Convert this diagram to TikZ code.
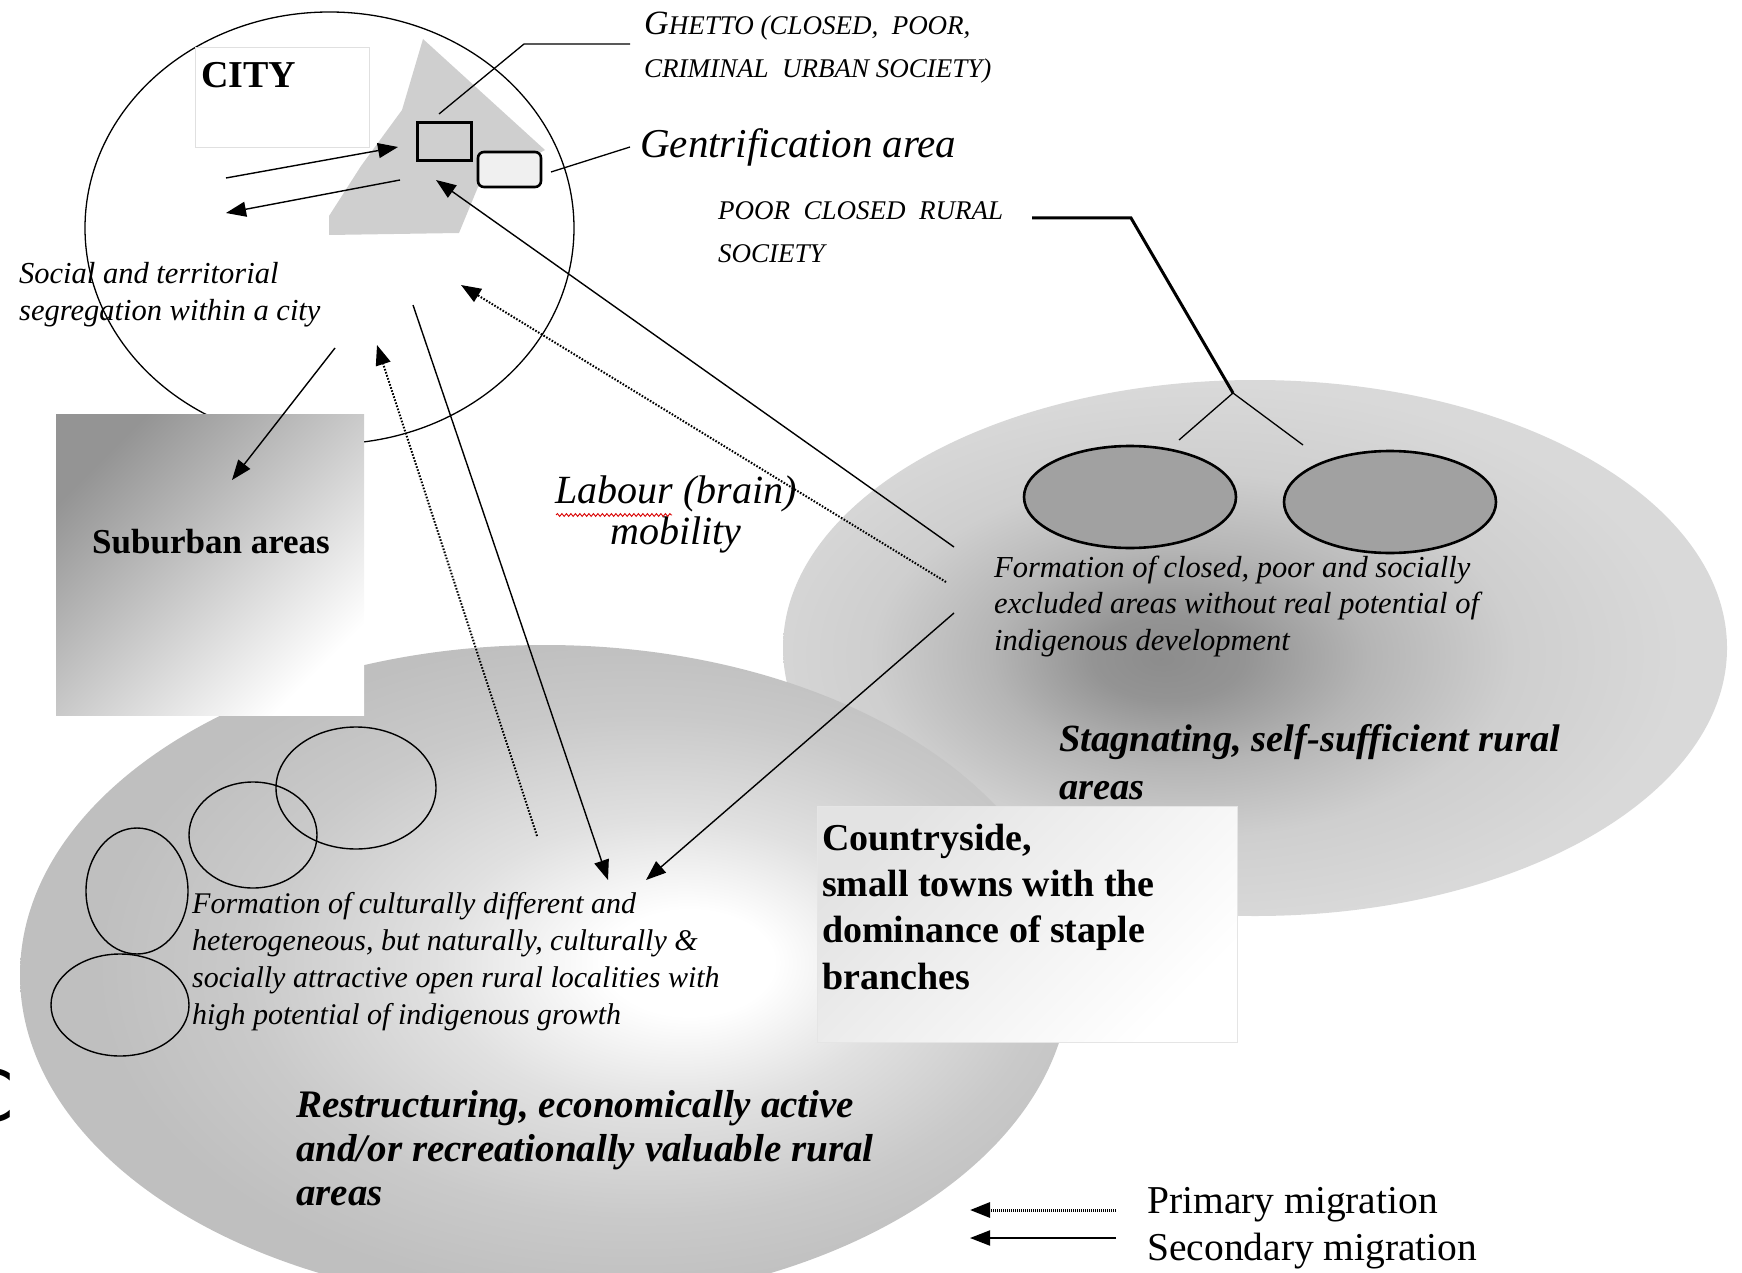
\documentclass[tikz,border=0pt]{standalone}
\usepackage{fontspec}
\setmainfont{Liberation Serif}
\newfontfamily\straysans{DejaVu Sans}
\usepackage{tikz}
\usetikzlibrary{shapes.geometric,arrows.meta,decorations.pathmorphing}
\definecolor{ghettogray}{gray}{0.81}
\definecolor{gentrigray}{gray}{0.94}
\definecolor{pocketgray}{gray}{0.63}
\pgfdeclareradialshading{stagshade}{\pgfpoint{-5bp}{-1bp}}{%
  color(0bp)=(black!45); color(4bp)=(black!42); color(10bp)=(black!29);
  color(17bp)=(black!19); color(25bp)=(black!15); color(50bp)=(black!15)}
\pgfdeclareradialshading{restshade}{\pgfpoint{7.5bp}{1bp}}{%
  color(0bp)=(white); color(4bp)=(white); color(11bp)=(black!12);
  color(19bp)=(black!21); color(25bp)=(black!25); color(50bp)=(black!25)}
\tikzset{%
  zone/.style={
    ellipse,
    draw=none,
    inner sep=0pt
  },
  ringline/.style={
    ellipse,
    draw,
    line width=1.4pt,
    inner sep=0pt
  },
  pocket/.style={
    ellipse,
    draw,
    line width=2.6pt,
    fill=pocketgray,
    minimum width=212pt,
    minimum height=102pt,
    inner sep=0pt
  },
  panel/.style={
    rectangle,
    inner sep=0pt
  },
  ghettobox/.style={
    rectangle,
    draw,
    line width=3pt,
    fill=ghettogray,
    minimum width=54pt,
    minimum height=38pt
  },
  gentribox/.style={
    rectangle,
    rounded corners=6pt,
    draw,
    line width=2.6pt,
    fill=gentrigray,
    minimum width=63pt,
    minimum height=35pt
  },
  plaintext/.style={
    align=left,
    anchor=base west,
    inner sep=0pt
  },
  bodytext/.style={
    plaintext,
    font=\fontsize{30.5}{36.5}\selectfont\itshape
  },
  capstext/.style={
    plaintext,
    font=\fontsize{27}{42.5}\selectfont\itshape
  },
  leader/.style={line width=1.3pt},
  thickleader/.style={line width=3pt},
  secondary/.style={->, line width=1.4pt},
  primary/.style={->, line width=2pt, dash pattern=on 1.6pt off 1.6pt},
}

\begin{document}
\begin{tikzpicture}[x=1pt, y=-1pt, >={Triangle[length=20pt,width=15pt]}]
\clip (0,0) rectangle (1742,1273);

\node [zone, shade, shading=stagshade, minimum width=944pt, minimum height=536pt] (stagnating) at (1255,648) {};
\node [zone, shade, shading=restshade, minimum width=1050pt, minimum height=660pt] (restructuring) at (545,975) {};
\node [panel, draw=black!10, top color=black!11, bottom color=white, shading angle=45,
  minimum width=420pt, minimum height=236pt] (countryside) at (1027,924) {};

\node [ringline, line width=1.3pt, minimum width=489pt, minimum height=432pt] (city) at (329.5,228) {};
\node [panel, top color=black!42, bottom color=white, shading angle=45,
  minimum width=308pt, minimum height=301pt] (suburb) at (210,564.5) {};
\node [panel, draw=black!12, fill=white, minimum width=174pt, minimum height=100pt] (citybox) at (282,97) {};

\fill [ghettogray] (423,39) -- (545,150) -- (478,187) -- (459,233) -- (329,235)
  -- (329,216) -- (361,166) -- (402,110) -- cycle;
\node [ghettobox] (ghetto) at (444,141.5) {};
\node [gentribox] (gentri) at (509.5,169.5) {};

\foreach \x/\y [count=\i] in {1130/497, 1390/502}
  \node [pocket] (pocket-\i) at (\x,\y) {};

\foreach \x/\y/\w/\h [count=\i] in {356/788/160pt/122pt, 253/835/128pt/106pt, 137/891/102pt/126pt, 120/1005/138pt/102pt}
  \node [ringline, minimum width=\w, minimum height=\h] (locality-\i) at (\x,\y) {};

\node [plaintext, font=\fontsize{38}{40}\selectfont\bfseries] (citylabel) at (201,88) {CITY};
\node [capstext, font=\fontsize{27}{43}\selectfont\itshape] (ghettotag) at (644,78)
  {{\fontsize{34}{43}\selectfont G}HETTO (CLOSED,\ \ POOR,\\CRIMINAL\ \ URBAN SOCIETY)};
\node [plaintext, font=\fontsize{41}{44}\selectfont\itshape] (gentritag) at (640,158) {Gentrification area};
\node [capstext] (ruraltag) at (718,262) {POOR\ \ CLOSED\ \ RURAL\\SOCIETY};
\node [bodytext] (segregation) at (19,320) {Social and territorial\\segregation within a city};
\node [plaintext, font=\fontsize{35}{40}\selectfont\bfseries] (suburblabel) at (92,553) {Suburban areas};
\node [align=center, anchor=base, inner sep=0pt, font=\fontsize{40}{41}\selectfont\itshape] (labour) at (676,544)
  {Labour (brain)\\mobility};
\node [bodytext] (closedform) at (994,650)
  {Formation of closed, poor and socially\\excluded areas without real potential of\\indigenous development};
\node [plaintext, font=\fontsize{38.5}{48}\selectfont\bfseries\itshape] (stagtitle) at (1059,799)
  {Stagnating, self-sufficient rural\\areas};
\node [plaintext, font=\fontsize{38}{46.3}\selectfont\bfseries] (countrylabel) at (822,989)
  {Countryside,\\small towns with the\\dominance of staple\\branches};
\node [bodytext, font=\fontsize{30}{37}\selectfont\itshape] (openform) at (192,1024)
  {Formation of culturally different and\\heterogeneous, but naturally, culturally \&\\socially attractive open rural localities with\\high potential of indigenous growth};
\node [plaintext, font=\fontsize{39}{44}\selectfont\bfseries\itshape] (resttitle) at (296,1205)
  {Restructuring, economically active\\and/or recreationally valuable rural\\areas};
\node [plaintext, font=\fontsize{39.5}{47}\selectfont] (legendtext) at (1147,1260)
  {Primary migration\\Secondary migration};
\node [anchor=base east, inner sep=0pt, font=\straysans\fontsize{71}{71}\selectfont] (strayc) at (14,1121) {C};

\coordinate (gl-a) at (439,114);
\coordinate (gl-b) at (524,44);
\coordinate (gl-c) at (630,44);
\coordinate (gn-a) at (551,172);
\coordinate (gn-b) at (630,147);
\coordinate (rl-a) at (1032,218);
\coordinate (rl-b) at (1131,218);
\coordinate (rl-c) at (1233,393);
\coordinate (rl-l) at (1179,440);
\coordinate (rl-r) at (1303,445);
\coordinate (sg-in-a) at (226,178);
\coordinate (sg-in-b) at (398,147);
\coordinate (sg-out-a) at (400,180);
\coordinate (sg-out-b) at (226,213);
\coordinate (sb-a) at (335,348);
\coordinate (sb-b) at (232,480);
\coordinate (st-a) at (954,547);
\coordinate (st-b) at (436,180);
\coordinate (st-c) at (946,582);
\coordinate (st-d) at (461,285);
\coordinate (st-e) at (954,613);
\coordinate (rs-a) at (646,880);
\coordinate (ct-a) at (413,305);
\coordinate (rs-b) at (608,880);
\coordinate (rs-c) at (537,836);
\coordinate (ct-b) at (377,345);
\coordinate (lg-a) at (1116,1210);
\coordinate (lg-b) at (970,1210);
\coordinate (lg-c) at (1116,1238);
\coordinate (lg-d) at (970,1238);
\coordinate (sq-a) at (556,515);
\coordinate (sq-b) at (672,515);

\draw [leader] (gl-a) -- (gl-b) -- (gl-c);
\draw [leader] (gn-a) -- (gn-b);
\draw [thickleader] (rl-a) -- (rl-b) -- (rl-c);
\draw [leader] (rl-l) -- (rl-c) -- (rl-r);

\draw [secondary] (sg-in-a) -- (sg-in-b);
\draw [secondary] (sg-out-a) -- (sg-out-b);
\draw [secondary] (sb-a) -- (sb-b);
\draw [secondary] (st-a) -- (st-b);
\draw [primary] (st-c) -- (st-d);
\draw [secondary] (st-e) -- (rs-a);
\draw [secondary] (ct-a) -- (rs-b);
\draw [primary] (rs-c) -- (ct-b);

\draw [primary, line width=3pt, dash pattern=on 1pt off 1pt] (lg-a) -- (lg-b);
\draw [secondary, line width=2pt] (lg-c) -- (lg-d);

\draw [red!85!black, line width=0.9pt, decorate, decoration={snake, amplitude=1.4pt, segment length=4.5pt}] (sq-a) -- (sq-b);

\end{tikzpicture}
\end{document}
